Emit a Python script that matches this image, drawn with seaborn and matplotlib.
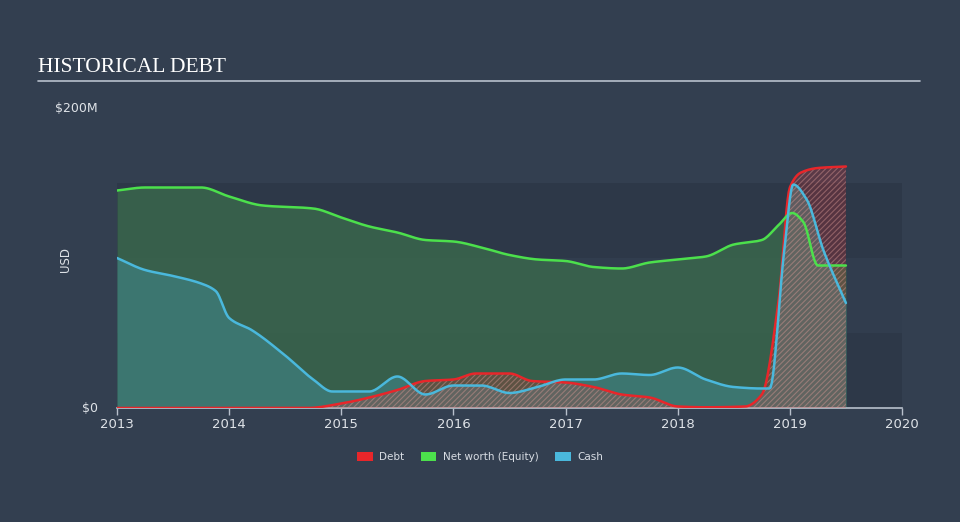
import numpy as np
import pandas as pd
import matplotlib
matplotlib.use("Agg")
import matplotlib.pyplot as plt
from matplotlib.patches import Patch
import seaborn as sns

# ---- data (USD millions) ----
nw_x = [2013.0, 2013.25, 2013.75, 2014.0, 2014.3, 2014.75, 2015.0, 2015.25, 2015.5, 2015.75,
        2016.0, 2016.25, 2016.5, 2016.75, 2017.0, 2017.25, 2017.5, 2017.75, 2018.0, 2018.25,
        2018.5, 2018.75, 2018.9, 2019.02, 2019.12, 2019.25, 2019.5]
nw_y = [145, 147, 147, 141, 135, 133, 127, 121, 117, 112,
        111, 107, 102, 99, 98, 94, 93, 97, 99, 101,
        109, 112, 122, 130, 124, 95, 95]

cash_x = [2013.0, 2013.25, 2013.5, 2013.75, 2013.88, 2014.0, 2014.2, 2014.5, 2014.75, 2014.92,
          2015.0, 2015.25, 2015.5, 2015.75, 2016.0, 2016.25, 2016.5, 2016.75, 2017.0, 2017.25,
          2017.5, 2017.75, 2018.0, 2018.25, 2018.5, 2018.75, 2018.82, 2018.95, 2019.03, 2019.15,
          2019.3, 2019.5]
cash_y = [100, 92, 88, 83, 78, 60, 52, 35, 19, 11,
          11, 11, 21, 9, 15, 15, 10, 14, 19, 19,
          23, 22, 27, 19, 14, 13, 13, 105, 149, 139,
          105, 70]

debt_x = [2013.0, 2014.7, 2015.0, 2015.25, 2015.5, 2015.75, 2016.0, 2016.2, 2016.5, 2016.7,
          2017.0, 2017.25, 2017.5, 2017.75, 2018.0, 2018.25, 2018.6, 2018.75, 2018.9, 2019.0,
          2019.1, 2019.25, 2019.5]
debt_y = [0, 0, 3, 7, 12, 18, 19, 23, 23, 18,
          17, 14, 9, 7, 1, 0.5, 1, 9, 72, 147,
          157, 160, 161]

x_ticks = [2013, 2014, 2015, 2016, 2017, 2018, 2019, 2020]
y_ticks = [0, 200]
y_ticklabels = ["$0", "$200M"]
series_names = ["Debt", "Net worth (Equity)", "Cash"]
series_colors = ["#e8262a", "#4ce04c", "#4ab8dc"]


def pchip(x, y, n=600):
    x = np.asarray(x, float)
    y = np.asarray(y, float)
    h = np.diff(x)
    d = np.diff(y) / h
    m = np.zeros_like(y)
    for i in range(1, len(x) - 1):
        if d[i - 1] * d[i] > 0:
            w1 = 2 * h[i] + h[i - 1]
            w2 = h[i] + 2 * h[i - 1]
            m[i] = (w1 + w2) / (w1 / d[i - 1] + w2 / d[i])
    m[0] = d[0]
    m[-1] = d[-1]
    xs = np.linspace(x[0], x[-1], n)
    idx = np.clip(np.searchsorted(x, xs) - 1, 0, len(x) - 2)
    t = (xs - x[idx]) / h[idx]
    h00 = 2 * t**3 - 3 * t**2 + 1
    h10 = t**3 - 2 * t**2 + t
    h01 = -2 * t**3 + 3 * t**2
    h11 = t**3 - t**2
    ys = h00 * y[idx] + h10 * h[idx] * m[idx] + h01 * y[idx + 1] + h11 * h[idx] * m[idx + 1]
    return xs, ys


sns.set_theme(style="dark")
bg = "#333f50"
txt = "#dfe3e8"
plt.rcParams["hatch.linewidth"] = 0.8

fig = plt.figure(figsize=(9.6, 5.22), dpi=100, facecolor=bg)
ax = fig.add_axes([117 / 960, (522 - 408) / 522, (902 - 117) / 960, 300 / 522])
ax.set_facecolor(bg)

# background bands
ax.axhspan(0, 50, color="#2d3848", zorder=0, lw=0)
ax.axhspan(50, 100, color="#313d4e", zorder=0, lw=0)
ax.axhspan(100, 150, color="#2d3848", zorder=0, lw=0)

nx, ny = pchip(nw_x, nw_y)
cx, cy = pchip(cash_x, cash_y)
dx, dy = pchip(debt_x, debt_y)
dy = np.clip(dy, 0, None)
cy = np.clip(cy, 0, None)

ax.fill_between(nx, 0, ny, color="#3a6a4c", alpha=0.8, lw=0, zorder=1)
ax.fill_between(cx, 0, cy, color="#3f8080", alpha=0.7, lw=0, zorder=2)
ax.fill_between(dx, 0, dy, facecolor=(0.91, 0.15, 0.16, 0.22), edgecolor=(0.85, 0.6, 0.58, 0.45),
                hatch="//////", lw=0, zorder=3)

df = pd.concat([
    pd.DataFrame({"year": nx, "value": ny, "series": "Net worth (Equity)"}),
    pd.DataFrame({"year": cx, "value": cy, "series": "Cash"}),
    pd.DataFrame({"year": dx, "value": dy, "series": "Debt"}),
])
sns.lineplot(data=df, x="year", y="value", hue="series", hue_order=series_names,
             palette=series_colors, linewidth=1.8, ax=ax, legend=False, sort=False, zorder=4)

ax.set_xlim(2013, 2020)
ax.set_ylim(0, 200)
ax.set_xticks(x_ticks)
ax.set_xticklabels([str(t) for t in x_ticks], color=txt, fontsize=9.5)
ax.set_yticks(y_ticks)
ax.set_yticklabels(y_ticklabels, color=txt, fontsize=9)
ax.tick_params(axis="x", length=5, color="#b8c0cc", width=1, pad=2, bottom=True)
ax.tick_params(axis="y", length=0, pad=14)
for lab in ax.get_yticklabels():
    lab.set_verticalalignment("center")
ax.set_xlabel("")
ax.set_ylabel("")
for s in ["top", "right", "left"]:
    ax.spines[s].set_visible(False)
ax.spines["bottom"].set_color("#b8c0cc")
ax.spines["bottom"].set_linewidth(1.2)
ax.grid(False)

fig.text(66 / 960, 1 - 260 / 522, "USD", rotation=90, color=txt, fontsize=8.5,
         ha="center", va="center")

# title and rule
fig.text(38 / 960, 1 - 67 / 522, "HISTORICAL DEBT", fontsize=15.5, color="white",
         family="Liberation Serif", va="center", ha="left")
fig.add_artist(plt.Line2D([38 / 960, 920 / 960], [1 - 81 / 522, 1 - 81 / 522],
                          color="#b8c0cc", lw=1.2))

handles = [Patch(facecolor=c, edgecolor="none", label=n) for n, c in zip(series_names, series_colors)]
fig.legend(handles=handles, loc="center", bbox_to_anchor=(0.5, 1 - 457 / 522), ncol=3,
           frameon=False, fontsize=7.5, labelcolor="#d8dde4", handlelength=1.5, handleheight=1.0,
           columnspacing=1.6, handletextpad=0.6)

fig.savefig("out.png", dpi=100, facecolor=bg)
